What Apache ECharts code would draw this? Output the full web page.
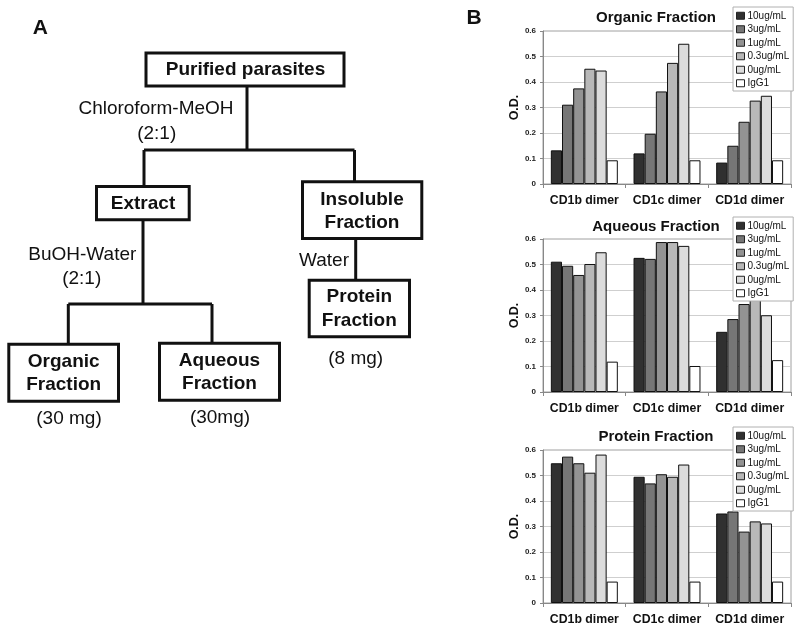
<!DOCTYPE html>
<html>
<head>
<meta charset="utf-8">
<script src="https://cdn.jsdelivr.net/npm/echarts@6/dist/echarts.min.js"></script>
<style>
html,body{margin:0;padding:0;background:#fff;}
#chart{width:800px;height:631px;}
</style>
</head>
<body>
<div id="chart"></div>
<script>
// ---- data ----
var categories = ['CD1b dimer', 'CD1c dimer', 'CD1d dimer'];
var concentrations = ['10ug/mL', '3ug/mL', '1ug/mL', '0.3ug/mL', '0ug/mL', 'IgG1'];
var yTicks = [0, 0.1, 0.2, 0.3, 0.4, 0.5, 0.6];
var panelTitles = ['Organic Fraction', 'Aqueous Fraction', 'Protein Fraction'];
// rows: concentrations, columns: categories
var organicValues = [
  [0.132, 0.120, 0.084],
  [0.311, 0.197, 0.150],
  [0.375, 0.363, 0.244],
  [0.452, 0.475, 0.327],
  [0.445, 0.550, 0.346],
  [0.093, 0.093, 0.093]
];
var aqueousValues = [
  [0.511, 0.526, 0.236],
  [0.495, 0.522, 0.286],
  [0.459, 0.588, 0.345],
  [0.502, 0.588, 0.362],
  [0.548, 0.573, 0.301],
  [0.119, 0.102, 0.125]
];
var proteinValues = [
  [0.548, 0.495, 0.351],
  [0.574, 0.469, 0.359],
  [0.548, 0.505, 0.280],
  [0.511, 0.495, 0.320],
  [0.582, 0.543, 0.312],
  [0.084, 0.084, 0.084]
];

// ---- styles ----
var FONT = '"Liberation Sans", Arial, sans-serif';
var barColors = ['#303030', '#767676', '#939393', '#b8b8b8', '#dcdcdc', '#ffffff'];
var panels = [organicValues, aqueousValues, proteinValues];
var gridTops = [31, 239, 450];
var gridHeight = 153;
var gridLeft = 543, gridWidth = 248;
var titleY = [17.5, 226.5, 436.5];
var legendTops = [7, 217, 427];

var grids = [], xAxes = [], yAxes = [], series = [], legends = [];
panels.forEach(function (vals, p) {
  grids.push({left: gridLeft, top: gridTops[p], width: gridWidth, height: gridHeight,
    show: true, borderColor: '#a0a0a0', borderWidth: 1, backgroundColor: 'transparent'});
  xAxes.push({type: 'category', gridIndex: p, data: categories,
    axisLine: {lineStyle: {color: '#888', width: 1}},
    axisTick: {show: true, length: 4, lineStyle: {color: '#888'}},
    axisLabel: {interval: 0, hideOverlap: false, fontFamily: FONT, fontWeight: 'bold', fontSize: 12.3, color: '#111', margin: 11},
    splitLine: {show: false}});
  yAxes.push({type: 'value', gridIndex: p, min: yTicks[0], max: yTicks[yTicks.length - 1], interval: 0.1,
    name: 'O.D.', nameLocation: 'middle', nameGap: 17, nameRotate: 90,
    nameTextStyle: {fontFamily: FONT, fontWeight: 'bold', fontSize: 12.5, color: '#111'},
    axisLine: {show: true, lineStyle: {color: '#888', width: 1}},
    axisTick: {show: true, length: 3, lineStyle: {color: '#888'}},
    axisLabel: {fontFamily: FONT, fontWeight: 'bold', fontSize: 8, color: '#222', margin: 7},
    splitLine: {show: true, lineStyle: {color: '#cfcfcf', width: 1}}});
  concentrations.forEach(function (name, k) {
    series.push({type: 'bar', name: name, xAxisIndex: p, yAxisIndex: p,
      data: vals[k], barGap: '0%', barCategoryGap: '19%',
      itemStyle: {color: barColors[k], borderColor: '#111', borderWidth: 1},
      emphasis: {disabled: true}});
  });
  legends.push({orient: 'vertical', left: 733, top: legendTops[p], data: concentrations,
    backgroundColor: '#fff', borderColor: '#b0b0b0', borderWidth: 1,
    padding: [3, 4, 2, 3], itemWidth: 8, itemHeight: 7, itemGap: 2,
    icon: 'rect', selectedMode: false,
    itemStyle: {borderColor: '#222', borderWidth: 1},
    textStyle: {fontFamily: FONT, fontSize: 10, color: '#111', padding: [0, 0, 0, -2], lineHeight: 11.5}});
});

// ---- flowchart (panel A) and panel labels ----
var STROKE = '#111';
function box(x, y, w, h) {
  return {type: 'rect', shape: {x: x, y: y, width: w, height: h},
    style: {fill: '#fff', stroke: STROKE, lineWidth: 3}, z: 10};
}
function line(points) {
  return {type: 'polyline', shape: {points: points},
    style: {stroke: STROKE, lineWidth: 3, fill: null}, z: 9};
}
function txt(s, x, y, size, bold) {
  return {type: 'text', z: 11, style: {text: s, x: x, y: y, align: 'center', verticalAlign: 'middle',
    textAlign: 'center', textVerticalAlign: 'middle',
    font: (bold ? 'bold ' : '') + size + 'px ' + FONT, fill: '#111'}};
}
var graphics = [
  txt('A', 40.3, 28.5, 21, true),
  txt('B', 474, 18.5, 21, true),
  // lines
  line([[247, 87], [247, 150]]),
  line([[144, 150], [354.5, 150]]),
  line([[144, 150], [144, 186]]),
  line([[354.5, 150], [354.5, 182]]),
  line([[143, 221], [143, 304]]),
  line([[68.3, 304], [212, 304]]),
  line([[68.3, 304], [68.3, 344]]),
  line([[212, 304], [212, 343]]),
  line([[355.7, 239], [355.7, 280]]),
  // boxes
  box(146, 53, 198, 33),
  box(96.5, 186.5, 92.7, 33.3),
  box(302.5, 181.8, 119.3, 56.7),
  box(309.2, 280.2, 100.3, 56.6),
  box(8.8, 344.2, 109.7, 57),
  box(159.5, 343.2, 120, 57),
  // texts
  txt('Purified parasites', 245.5, 70, 19, true),
  txt('Chloroform-MeOH', 156, 109, 19, false),
  txt('(2:1)', 156.7, 133.5, 19, false),
  txt('Extract', 143, 203.5, 19, true),
  txt('Insoluble', 362, 199.5, 19, true),
  txt('Fraction', 362, 223, 19, true),
  txt('BuOH-Water', 82.3, 255, 19, false),
  txt('(2:1)', 81.7, 278.5, 19, false),
  txt('Water', 324, 261, 19, false),
  txt('Protein', 359.3, 297, 19, true),
  txt('Fraction', 359.3, 321, 19, true),
  txt('(8 mg)', 355.7, 358.5, 19, false),
  txt('Organic', 63.7, 362, 19, true),
  txt('Fraction', 63.7, 385, 19, true),
  txt('Aqueous', 219.5, 361, 19, true),
  txt('Fraction', 219.5, 384, 19, true),
  txt('(30 mg)', 69, 418.5, 19, false),
  txt('(30mg)', 220, 417.5, 19, false)
];
panelTitles.forEach(function (t, p) {
  graphics.push(txt(t, 656, titleY[p], 15, true));
});

var chart = echarts.init(document.getElementById('chart'), null, {renderer: 'canvas'});
chart.setOption({
  animation: false,
  backgroundColor: '#fff',
  grid: grids,
  xAxis: xAxes,
  yAxis: yAxes,
  legend: legends,
  series: series,
  graphic: graphics
});
</script>
</body>
</html>
